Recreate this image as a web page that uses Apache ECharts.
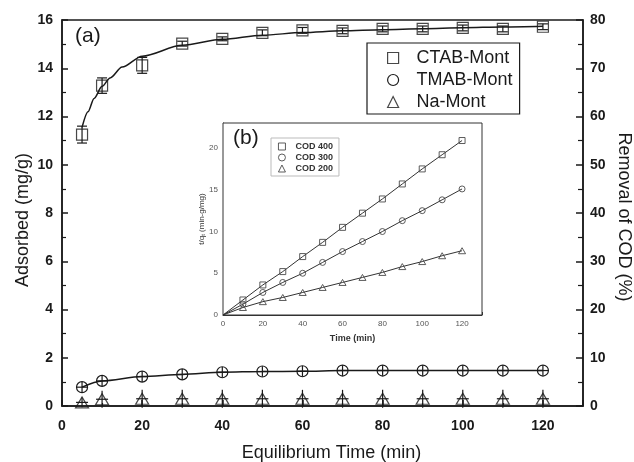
<!DOCTYPE html>
<html>
<head>
<meta charset="utf-8">
<script src="https://cdn.jsdelivr.net/npm/echarts@6/dist/echarts.min.js"></script>
<style>
  html, body { margin: 0; background: #fff; }
  #chart { width: 634px; height: 462px; }
</style>
</head>
<body>
<div id="chart"></div>
<script>
// (a) adsorbed amount vs equilibrium time
const times = [5, 10, 20, 30, 40, 50, 60, 70, 80, 90, 100, 110, 120];
const ctab = [11.25, 13.28, 14.12, 15.02, 15.22, 15.47, 15.57, 15.55, 15.63, 15.63, 15.67, 15.63, 15.72];
const ctabErr = [0.35, 0.32, 0.33, 0.1, 0.08, 0.12, 0.12, 0.12, 0.12, 0.12, 0.12, 0.12, 0.12];
// fitted curve drawn through CTAB points
const fitTimes = [5, 6.5, 8, 10, 12, 15, 20, 30, 40, 50, 60, 70, 80, 90, 100, 110, 120];
const ctabFit = [11.55, 12.2, 12.75, 13.25, 13.6, 14.05, 14.5, 14.95, 15.2, 15.37, 15.48, 15.55, 15.6, 15.64, 15.68, 15.71, 15.74];
const tmab = [0.78, 1.04, 1.22, 1.31, 1.4, 1.43, 1.44, 1.47, 1.47, 1.47, 1.47, 1.47, 1.47];
const tmabErr = [0.22, 0.22, 0.22, 0.22, 0.22, 0.22, 0.22, 0.22, 0.22, 0.22, 0.22, 0.22, 0.22];
const na = [0.15, 0.28, 0.3, 0.3, 0.3, 0.3, 0.3, 0.3, 0.3, 0.3, 0.3, 0.3, 0.3];
const naErr = [0.2, 0.35, 0.37, 0.37, 0.37, 0.37, 0.37, 0.37, 0.37, 0.37, 0.37, 0.37, 0.37];

// (b) inset: t/qt vs time
const insetTimes = [0, 10, 20, 30, 40, 50, 60, 70, 80, 90, 100, 110, 120];
const cod400 = [0, 1.8, 3.6, 5.2, 7.0, 8.7, 10.5, 12.2, 13.9, 15.7, 17.5, 19.2, 20.9];
const cod300 = [0, 1.3, 2.7, 3.9, 5.0, 6.3, 7.6, 8.8, 10.0, 11.3, 12.5, 13.8, 15.1];
const cod200 = [0, 0.9, 1.6, 2.1, 2.7, 3.3, 3.9, 4.5, 5.1, 5.8, 6.4, 7.1, 7.7];

const FONT = 'Liberation Sans, Arial, sans-serif';
const INK = '#1a1a1a';
const GREY = '#4a4a4a';

function errorBars(capsAtEnds, halfCap) {
  return function (params, api) {
    const x = api.value(0), y = api.value(1), e = api.value(2);
    const top = api.coord([x, y + e]);
    const bot = api.coord([x, y - e]);
    const mid = api.coord([x, y]);
    const style = { stroke: INK, lineWidth: 1.2 };
    const children = [{ type: 'line', shape: { x1: top[0], y1: top[1], x2: bot[0], y2: bot[1] }, style }];
    (capsAtEnds ? [top, bot] : [mid]).forEach(p => {
      children.push({ type: 'line', shape: { x1: p[0] - halfCap, y1: p[1], x2: p[0] + halfCap, y2: p[1] }, style });
    });
    return { type: 'group', children };
  };
}

const pairs = (xs, ys) => xs.map((x, i) => [x, ys[i]]);
const triples = (xs, ys, es) => xs.map((x, i) => [x, ys[i], es[i]]);
// inset points: no marker on the origin, the fit line starts there
const insetData = ys => insetTimes.map((t, i) => i === 0 ? { value: [t, ys[i]], symbol: 'none' } : [t, ys[i]]);

const hollow = { color: 'transparent', borderColor: INK, borderWidth: 1.2 };
const hollowGrey = { color: 'transparent', borderColor: GREY, borderWidth: 0.9 };

const chart = echarts.init(document.getElementById('chart'), null, { renderer: 'canvas' });

chart.setOption({
  animation: false,
  backgroundColor: '#fff',
  textStyle: { fontFamily: FONT },
  grid: [
    { left: 62, right: 51, top: 20, bottom: 56, outerBoundsMode: 'none', show: true, borderColor: INK, borderWidth: 1.5 },
    { left: 223, width: 259, top: 123, height: 192, outerBoundsMode: 'none', show: true, borderColor: '#333', borderWidth: 1, backgroundColor: '#fff', z: 5 },
  ],
  legend: [
    {
      orient: 'vertical', left: 367, top: 43,
      padding: [6, 7, 3, 20],
      itemWidth: 11, itemHeight: 11, itemGap: 4,
      borderColor: INK, borderWidth: 1.2,
      itemStyle: hollow,
      textStyle: { fontFamily: FONT, fontSize: 18, lineHeight: 18, color: INK, padding: [0, 0, 0, 13] },
      data: [
        { name: 'CTAB-Mont', icon: 'rect' },
        { name: 'TMAB-Mont', icon: 'circle' },
        { name: 'Na-Mont', icon: 'triangle' },
      ],
    },
    {
      orient: 'vertical', left: 271, top: 138,
      padding: [4, 6, 3, 7],
      itemWidth: 7, itemHeight: 7, itemGap: 2,
      borderColor: '#bbb', borderWidth: 1,
      itemStyle: hollowGrey,
      textStyle: { fontFamily: FONT, fontSize: 9, lineHeight: 9, fontWeight: 'bold', color: '#333', padding: [0, 0, 0, 5] },
      data: [
        { name: 'COD 400', icon: 'rect' },
        { name: 'COD 300', icon: 'circle' },
        { name: 'COD 200', icon: 'triangle' },
      ],
      z: 10,
    },
  ],
  xAxis: [
    {
      gridIndex: 0, type: 'value', min: 0, max: 130, interval: 20,
      name: 'Equilibrium Time (min)', nameLocation: 'middle', nameGap: 38, nameMoveOverlap: false,
      nameTextStyle: { fontSize: 18, color: INK, padding: [0, 0, 0, 18] },
      axisLine: { lineStyle: { color: INK, width: 1.5 } },
      axisTick: { inside: true, length: 6, lineStyle: { color: INK, width: 1.5 } },
      minorTick: { show: true, splitNumber: 2, length: 3, lineStyle: { color: INK, width: 1.2 } },
      axisLabel: { fontSize: 14, fontWeight: 'bold', color: INK, margin: 13, formatter: v => v > 120 ? '' : v },
      splitLine: { show: false },
    },
    {
      gridIndex: 1, type: 'value', min: 0, max: 130, interval: 20,
      name: 'Time (min)', nameLocation: 'middle', nameGap: 19, nameMoveOverlap: false,
      nameTextStyle: { fontSize: 9, fontWeight: 'bold', color: '#333' },
      axisLine: { lineStyle: { color: '#333', width: 1 } },
      axisTick: { inside: true, length: 3, lineStyle: { color: '#333' } },
      minorTick: { show: true, splitNumber: 2, length: 2, lineStyle: { color: '#333' } },
      axisLabel: { fontSize: 8, color: '#555', margin: 5, formatter: v => v > 120 ? '' : v },
      splitLine: { show: false },
    },
  ],
  yAxis: [
    {
      gridIndex: 0, type: 'value', min: 0, max: 16, interval: 2,
      name: 'Adsorbed (mg/g)', nameLocation: 'middle', nameGap: 30, nameMoveOverlap: false,
      nameTextStyle: { fontSize: 18, color: INK, padding: [0, 14, 0, 0] },
      axisLine: { show: true, lineStyle: { color: INK, width: 1.5 } },
      axisTick: { inside: true, length: 6, lineStyle: { color: INK, width: 1.5 } },
      minorTick: { show: true, splitNumber: 2, length: 4, lineStyle: { color: INK, width: 1.2 } },
      axisLabel: { fontSize: 14, fontWeight: 'bold', color: INK, margin: 9 },
      splitLine: { show: false },
    },
    {
      gridIndex: 0, type: 'value', position: 'right', min: 0, max: 80, interval: 10,
      name: 'Removal of COD (%)', nameLocation: 'middle', nameGap: 32, nameRotate: -90, nameMoveOverlap: false,
      nameTextStyle: { fontSize: 18, color: INK, padding: [0, 0, 0, 8] },
      axisLine: { show: true, lineStyle: { color: INK, width: 1.5 } },
      axisTick: { inside: true, length: 7, lineStyle: { color: INK, width: 1.5 } },
      minorTick: { show: true, splitNumber: 2, length: 5, lineStyle: { color: INK, width: 1.2 } },
      axisLabel: { fontSize: 14, fontWeight: 'bold', color: INK, margin: 7 },
      splitLine: { show: false },
    },
    {
      gridIndex: 1, type: 'value', min: 0, max: 23, interval: 5,
      name: 't/q{s|t} (min-g/mg)', nameLocation: 'middle', nameGap: 17, nameMoveOverlap: false,
      nameTextStyle: { fontSize: 8, color: '#333', rich: { s: { fontSize: 6, verticalAlign: 'bottom', color: '#333' } } },
      axisLine: { show: true, lineStyle: { color: '#333', width: 1 } },
      axisTick: { inside: true, length: 3, lineStyle: { color: '#333' } },
      minorTick: { show: true, splitNumber: 2, length: 2, lineStyle: { color: '#333' } },
      axisLabel: { fontSize: 8, color: '#555', margin: 5, formatter: v => v > 20 ? '' : v },
      splitLine: { show: false },
    },
  ],
  series: [
    {
      name: 'CTAB fit', type: 'line', xAxisIndex: 0, yAxisIndex: 0,
      data: pairs(fitTimes, ctabFit), smooth: 0.3, smoothMonotone: 'x', showSymbol: false,
      lineStyle: { color: INK, width: 1.5 }, z: 2,
    },
    {
      name: 'CTAB-Mont', type: 'scatter', xAxisIndex: 0, yAxisIndex: 0,
      data: pairs(times, ctab), symbol: 'rect', symbolSize: 11,
      itemStyle: hollow, z: 3,
    },
    {
      type: 'custom', xAxisIndex: 0, yAxisIndex: 0,
      data: triples(times, ctab, ctabErr), renderItem: errorBars(true, 5),
      encode: { x: 0, y: 1 }, z: 4,
    },
    {
      name: 'TMAB-Mont', type: 'line', xAxisIndex: 0, yAxisIndex: 0,
      data: pairs(times, tmab), smooth: 0.3, smoothMonotone: 'x', symbol: 'circle', symbolSize: 11,
      lineStyle: { color: INK, width: 1.5 }, itemStyle: hollow, z: 3,
    },
    {
      type: 'custom', xAxisIndex: 0, yAxisIndex: 0,
      data: triples(times, tmab, tmabErr), renderItem: errorBars(false, 5.5),
      encode: { x: 0, y: 1 }, z: 4,
    },
    {
      name: 'Na-Mont', type: 'scatter', xAxisIndex: 0, yAxisIndex: 0,
      data: pairs(times, na), symbol: 'triangle', symbolSize: [13, 11],
      itemStyle: hollow, z: 3,
    },
    {
      type: 'custom', xAxisIndex: 0, yAxisIndex: 0,
      data: triples(times, na, naErr), renderItem: errorBars(false, 6),
      encode: { x: 0, y: 1 }, z: 4,
    },
    {
      name: 'COD 400', type: 'line', xAxisIndex: 1, yAxisIndex: 2,
      data: insetData(cod400), symbol: 'rect', symbolSize: 6,
      lineStyle: { color: '#333', width: 1 }, itemStyle: hollowGrey, z: 6,
    },
    {
      name: 'COD 300', type: 'line', xAxisIndex: 1, yAxisIndex: 2,
      data: insetData(cod300), symbol: 'circle', symbolSize: 6,
      lineStyle: { color: '#333', width: 1 }, itemStyle: hollowGrey, z: 6,
    },
    {
      name: 'COD 200', type: 'line', xAxisIndex: 1, yAxisIndex: 2,
      data: insetData(cod200), symbol: 'triangle', symbolSize: [7, 6],
      lineStyle: { color: '#333', width: 1 }, itemStyle: hollowGrey, z: 6,
    },
  ],
  graphic: [
    { type: 'text', left: 75, top: 26, style: { text: '(a)', font: '21px ' + FONT, fill: INK } },
    { type: 'text', left: 233, top: 128, z: 20, style: { text: '(b)', font: '21px ' + FONT, fill: INK } },
  ],
});
</script>
</body>
</html>
